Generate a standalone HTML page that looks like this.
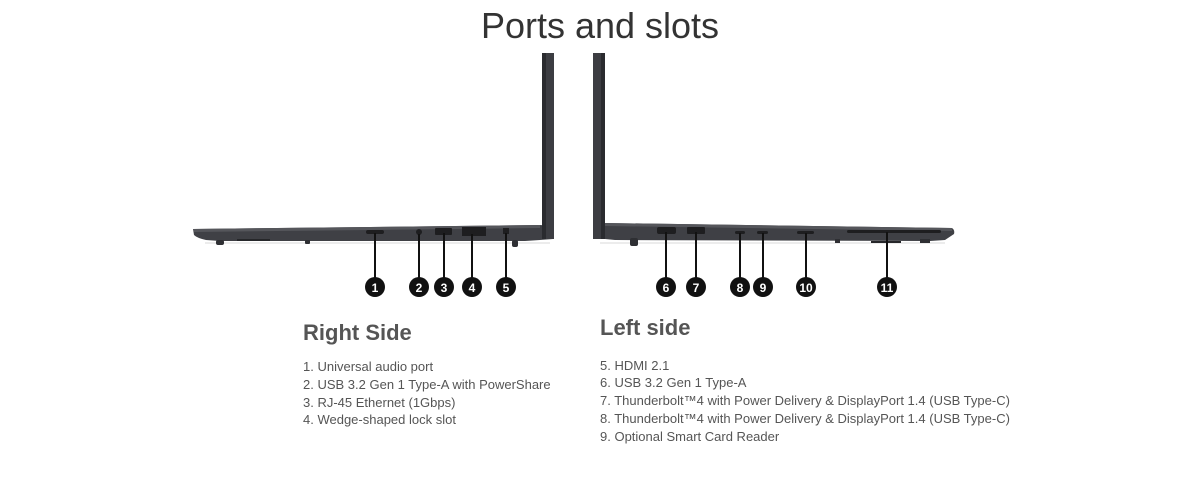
<!DOCTYPE html>
<html><head><style>
html,body{margin:0;padding:0;background:#fff;width:1200px;height:480px;overflow:hidden}
svg{position:absolute;left:0;top:0}
.t{font-family:"Liberation Sans",sans-serif}
</style></head><body>
<svg width="1200" height="480" viewBox="0 0 1200 480" xmlns="http://www.w3.org/2000/svg">
<text x="600" y="38" text-anchor="middle" class="t" font-size="36" fill="#333">Ports and slots</text>
<!-- left laptop -->
<rect x="205" y="242" width="345" height="2" fill="#ececec"/>
<path d="M193 229 L540 225 L553 226 L553 239 L540 240 L525 241 L220 241 L206 240 Q197 238 194 235Z" fill="#3f4045"/>
<path d="M193 229 L540 225 L540 228 L194 232Z" fill="#55565b"/>
<rect x="542" y="53" width="12" height="186" fill="#3c3d42"/>
<rect x="542" y="53" width="4" height="186" fill="#2a2b2f"/>
<rect x="216" y="240" width="8" height="5" rx="2" fill="#2e2f33"/>
<rect x="305" y="240" width="5" height="4" rx="1" fill="#2e2f33"/>
<rect x="512" y="240" width="6" height="7" rx="2" fill="#2e2f33"/>
<rect x="237" y="239" width="33" height="2" fill="#26272a"/>
<rect x="366" y="230" width="18" height="4" rx="2" fill="#1e1e20"/>
<circle cx="419" cy="232" r="3" fill="#1e1e20"/>
<rect x="435" y="228" width="17" height="7" rx="1" fill="#1e1e20"/>
<rect x="462" y="227" width="24" height="9" fill="#1e1e20"/>
<rect x="503" y="228" width="6" height="6" fill="#1e1e20"/>
<!-- right laptop -->
<rect x="600" y="242" width="345" height="2" fill="#ececec"/>
<path d="M605 223 L952 228 Q955 230 954 234 L945 240 L930 241 L615 240 L605 239Z" fill="#3f4045"/>
<path d="M605 223 L952 228 L952 231 L605 226Z" fill="#55565b"/>
<rect x="593" y="53" width="12" height="186" fill="#3c3d42"/>
<rect x="601" y="53" width="4" height="186" fill="#2a2b2f"/>
<rect x="630" y="238" width="8" height="8" rx="2" fill="#2e2f33"/>
<rect x="835" y="239" width="5" height="4" fill="#2e2f33"/>
<rect x="920" y="239" width="10" height="4" fill="#2e2f33"/>
<rect x="871" y="241" width="30" height="2" fill="#26272a"/>
<rect x="657" y="227" width="19" height="7" rx="2" fill="#1e1e20"/>
<rect x="687" y="227" width="18" height="7" rx="1" fill="#1e1e20"/>
<rect x="735" y="231" width="10" height="3" rx="1.5" fill="#1e1e20"/>
<rect x="757" y="231" width="11" height="3" rx="1.5" fill="#1e1e20"/>
<rect x="797" y="231" width="17" height="3" rx="1.5" fill="#1e1e20"/>
<rect x="847" y="230" width="94" height="3" rx="1.5" fill="#1e1e20"/>
<!-- callouts -->
<g stroke="#111" stroke-width="2">
<line x1="375" y1="233" x2="375" y2="280"/><line x1="419" y1="234" x2="419" y2="280"/>
<line x1="444" y1="233" x2="444" y2="280"/><line x1="472" y1="234" x2="472" y2="280"/>
<line x1="506" y1="233" x2="506" y2="280"/>
<line x1="666" y1="232" x2="666" y2="280"/><line x1="696" y1="232" x2="696" y2="280"/>
<line x1="740" y1="233" x2="740" y2="280"/><line x1="763" y1="233" x2="763" y2="280"/>
<line x1="806" y1="233" x2="806" y2="280"/><line x1="887" y1="232" x2="887" y2="280"/>
</g>
<g fill="#111">
<circle cx="375" cy="287" r="10"/><circle cx="419" cy="287" r="10"/><circle cx="444" cy="287" r="10"/>
<circle cx="472" cy="287" r="10"/><circle cx="506" cy="287" r="10"/>
<circle cx="666" cy="287" r="10"/><circle cx="696" cy="287" r="10"/><circle cx="740" cy="287" r="10"/>
<circle cx="763" cy="287" r="10"/><circle cx="806" cy="287" r="10"/><circle cx="887" cy="287" r="10"/>
</g>
<g fill="#fff" font-size="12" font-weight="bold" text-anchor="middle" class="t">
<text x="375" y="292">1</text><text x="419" y="292">2</text><text x="444" y="292">3</text>
<text x="472" y="292">4</text><text x="506" y="292">5</text>
<text x="666" y="292">6</text><text x="696" y="292">7</text><text x="740" y="292">8</text>
<text x="763" y="292">9</text><text x="806" y="292">10</text><text x="887" y="292">11</text>
</g>
<text x="303" y="340" class="t" font-size="22" font-weight="bold" fill="#555">Right Side</text>
<g class="t" font-size="13" fill="#555">
<text x="303" y="371">1. Universal audio port</text>
<text x="303" y="389">2. USB 3.2 Gen 1 Type-A with PowerShare</text>
<text x="303" y="407">3. RJ-45 Ethernet (1Gbps)</text>
<text x="303" y="424">4. Wedge-shaped lock slot</text>
</g>
<text x="600" y="335" class="t" font-size="22" font-weight="bold" fill="#555">Left side</text>
<g class="t" font-size="13" fill="#555">
<text x="600" y="370">5. HDMI 2.1</text>
<text x="600" y="387">6. USB 3.2 Gen 1 Type-A</text>
<text x="600" y="405">7. Thunderbolt™4 with Power Delivery &amp; DisplayPort 1.4 (USB Type-C)</text>
<text x="600" y="423">8. Thunderbolt™4 with Power Delivery &amp; DisplayPort 1.4 (USB Type-C)</text>
<text x="600" y="441">9. Optional Smart Card Reader</text>
</g>
</svg>
</body></html>
